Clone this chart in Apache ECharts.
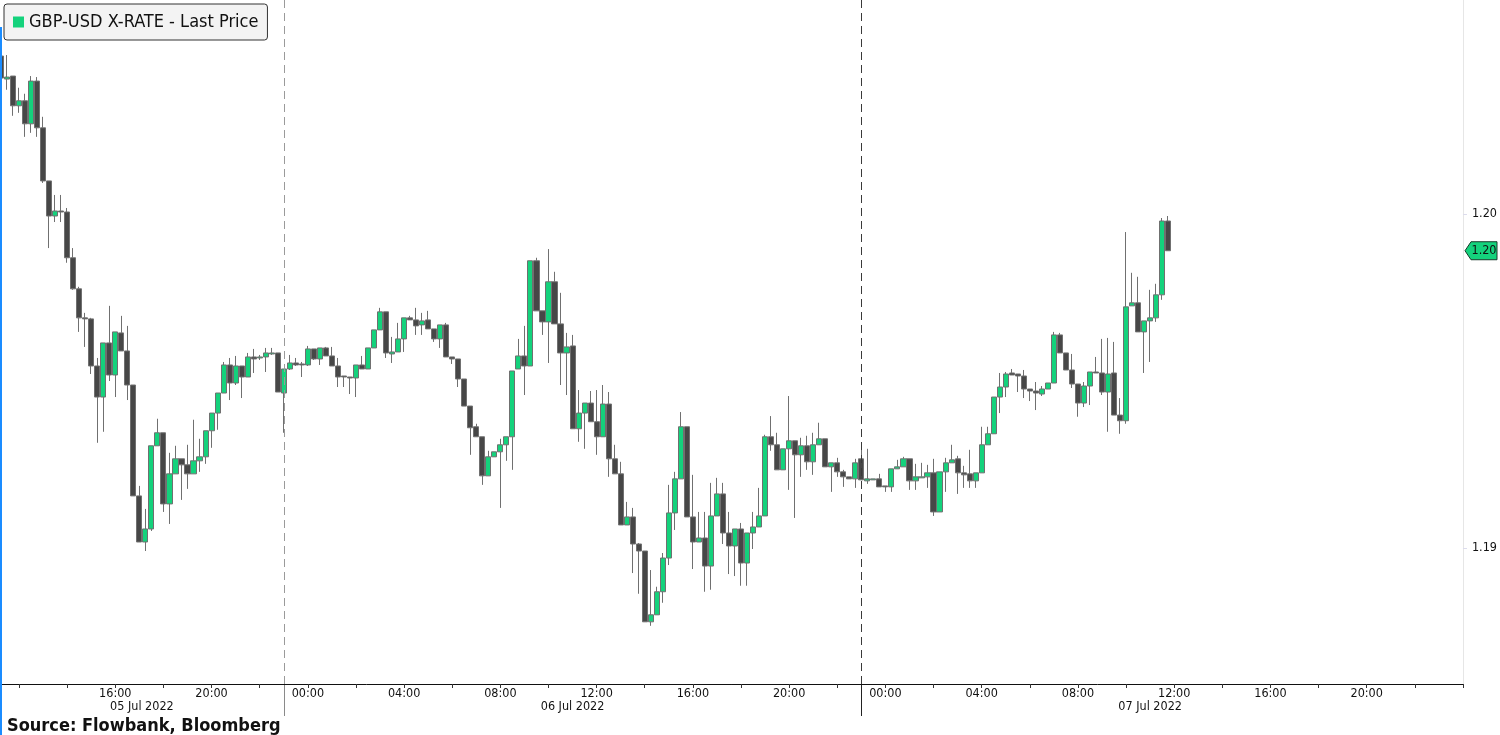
<!DOCTYPE html>
<html>
<head>
<meta charset="utf-8">
<script src="https://cdn.jsdelivr.net/npm/echarts@6/dist/echarts.min.js"></script>
<style>
html,body{margin:0;padding:0;background:#fff;}
#chart{width:1500px;height:735px;}
</style>
</head>
<body>
<div id="chart"></div>
<script>
// 15-minute GBP-USD candles, first bar 05 Jul 2022 11:15
const seriesName = 'GBP-USD X-RATE - Last Price';
const firstBarTime = Date.UTC(2022, 6, 5, 11, 15);
const barMinutes = 15;
const axisBarCount = 244; // axis runs to 08 Jul 2022 00:00

const open = [
1.20473,1.20404,1.20413,1.20324,1.20339,1.20270,1.20398,1.20258,1.20099,1.19994,
1.20009,1.20006,1.19869,1.19776,1.19689,1.19686,1.19545,1.19452,1.19614,1.19518,
1.19644,1.19590,1.19488,1.19156,1.19018,1.19057,1.19306,1.19345,1.19132,1.19222,
1.19267,1.19249,1.19222,1.19261,1.19273,1.19351,1.19404,1.19464,1.19548,1.19494,
1.19545,1.19512,1.19572,1.19569,1.19572,1.19581,1.19584,1.19464,1.19536,1.19554,
1.19551,1.19548,1.19596,1.19566,1.19599,1.19575,1.19545,1.19515,1.19512,1.19509,
1.19548,1.19536,1.19599,1.19653,1.19707,1.19581,1.19587,1.19626,1.19689,1.19683,
1.19668,1.19683,1.19656,1.19626,1.19668,1.19572,1.19566,1.19506,1.19425,1.19363,
1.19333,1.19216,1.19273,1.19288,1.19309,1.19333,1.19536,1.19575,1.19545,1.19860,
1.19710,1.19677,1.19797,1.19671,1.19584,1.19605,1.19357,1.19404,1.19434,1.19378,
1.19333,1.19431,1.19267,1.19222,1.19069,1.19093,1.19012,1.18991,1.18779,1.18800,
1.18869,1.18970,1.19105,1.19207,1.19363,1.19093,1.19018,1.19030,1.18946,1.19096,
1.19162,1.19045,1.19006,1.19057,1.18955,1.19045,1.19063,1.19096,1.19333,1.19309,
1.19234,1.19297,1.19321,1.19279,1.19306,1.19258,1.19309,1.19327,1.19243,1.19255,
1.19228,1.19213,1.19207,1.19267,1.19201,1.19204,1.19207,1.19186,1.19183,1.19237,
1.19243,1.19267,1.19201,1.19210,1.19213,1.19225,1.19108,1.19228,1.19255,1.19267,
1.19225,1.19222,1.19201,1.19225,1.19309,1.19342,1.19452,1.19482,1.19524,1.19521,
1.19515,1.19476,1.19470,1.19461,1.19476,1.19494,1.19638,1.19584,1.19533,1.19491,
1.19434,1.19485,1.19527,1.19524,1.19467,1.19524,1.19398,1.19381,1.19725,1.19734,
1.19647,1.19680,1.19689,1.19758,1.19979
];
const close = [
1.20407,1.20410,1.20324,1.20339,1.20270,1.20398,1.20258,1.20099,1.19994,1.20009,
1.20006,1.19869,1.19776,1.19689,1.19686,1.19545,1.19452,1.19614,1.19518,1.19647,
1.19590,1.19488,1.19156,1.19018,1.19057,1.19306,1.19345,1.19132,1.19222,1.19267,
1.19249,1.19222,1.19261,1.19273,1.19351,1.19404,1.19464,1.19548,1.19494,1.19545,
1.19512,1.19572,1.19566,1.19572,1.19584,1.19584,1.19467,1.19536,1.19554,1.19548,
1.19548,1.19596,1.19566,1.19599,1.19575,1.19545,1.19512,1.19512,1.19509,1.19548,
1.19536,1.19599,1.19653,1.19707,1.19584,1.19587,1.19626,1.19689,1.19683,1.19665,
1.19680,1.19656,1.19626,1.19668,1.19572,1.19566,1.19506,1.19425,1.19360,1.19333,
1.19216,1.19273,1.19288,1.19309,1.19333,1.19530,1.19575,1.19545,1.19860,1.19710,
1.19677,1.19797,1.19671,1.19584,1.19602,1.19357,1.19404,1.19434,1.19378,1.19333,
1.19431,1.19267,1.19222,1.19069,1.19093,1.19012,1.18991,1.18779,1.18800,1.18869,
1.18970,1.19105,1.19207,1.19363,1.19093,1.19018,1.19030,1.18946,1.19096,1.19162,
1.19045,1.19006,1.19057,1.18955,1.19045,1.19063,1.19096,1.19333,1.19309,1.19234,
1.19297,1.19321,1.19279,1.19306,1.19258,1.19309,1.19327,1.19243,1.19255,1.19228,
1.19213,1.19207,1.19255,1.19204,1.19207,1.19207,1.19183,1.19183,1.19237,1.19243,
1.19267,1.19201,1.19213,1.19213,1.19225,1.19108,1.19228,1.19255,1.19264,1.19225,
1.19219,1.19201,1.19225,1.19309,1.19342,1.19452,1.19482,1.19521,1.19518,1.19515,
1.19476,1.19470,1.19464,1.19476,1.19494,1.19638,1.19584,1.19533,1.19491,1.19434,
1.19485,1.19527,1.19524,1.19467,1.19521,1.19398,1.19381,1.19722,1.19734,1.19647,
1.19680,1.19689,1.19758,1.19979,1.19890
];
const low = [
1.20401,1.20372,1.20294,1.20303,1.20231,1.20243,1.20231,1.20093,1.19898,1.19976,
1.19976,1.19854,1.19773,1.19647,1.19602,1.19521,1.19315,1.19348,1.19500,1.19452,
1.19590,1.19443,1.19156,1.19018,1.18991,1.19051,1.19306,1.19108,1.19072,1.19222,
1.19144,1.19177,1.19222,1.19228,1.19252,1.19300,1.19354,1.19464,1.19443,1.19488,
1.19449,1.19512,1.19524,1.19563,1.19527,1.19578,1.19467,1.19345,1.19533,1.19545,
1.19512,1.19545,1.19563,1.19548,1.19575,1.19545,1.19482,1.19482,1.19461,1.19452,
1.19536,1.19536,1.19599,1.19653,1.19569,1.19554,1.19587,1.19587,1.19683,1.19638,
1.19638,1.19656,1.19617,1.19599,1.19572,1.19551,1.19482,1.19425,1.19279,1.19333,
1.19189,1.19216,1.19273,1.19120,1.19261,1.19234,1.19536,1.19458,1.19545,1.19710,
1.19638,1.19554,1.19671,1.19488,1.19458,1.19357,1.19318,1.19297,1.19378,1.19279,
1.19333,1.19213,1.19222,1.19069,1.19069,1.18925,1.18863,1.18779,1.18767,1.18800,
1.18836,1.18949,1.19054,1.19207,1.19093,1.18937,1.19018,1.18869,1.18875,1.19096,
1.19012,1.18922,1.18916,1.18887,1.18887,1.18997,1.19063,1.19096,1.19291,1.19234,
1.19234,1.19174,1.19090,1.19213,1.19234,1.19219,1.19309,1.19243,1.19168,1.19213,
1.19183,1.19207,1.19180,1.19204,1.19192,1.19204,1.19183,1.19168,1.19168,1.19237,
1.19243,1.19174,1.19174,1.19210,1.19180,1.19096,1.19108,1.19168,1.19255,1.19162,
1.19180,1.19180,1.19180,1.19225,1.19309,1.19342,1.19404,1.19452,1.19518,1.19467,
1.19449,1.19440,1.19413,1.19455,1.19476,1.19494,1.19584,1.19533,1.19479,1.19393,
1.19422,1.19428,1.19524,1.19458,1.19348,1.19398,1.19342,1.19372,1.19725,1.19647,
1.19524,1.19557,1.19677,1.19743,1.19890
];
const high = [
1.20485,1.20476,1.20413,1.20378,1.20360,1.20413,1.20410,1.20291,1.20099,1.20057,
1.20057,1.20018,1.19898,1.19782,1.19704,1.19689,1.19569,1.19614,1.19725,1.19647,
1.19695,1.19665,1.19488,1.19186,1.19117,1.19306,1.19387,1.19345,1.19285,1.19306,
1.19267,1.19309,1.19384,1.19327,1.19351,1.19404,1.19464,1.19557,1.19569,1.19575,
1.19545,1.19584,1.19596,1.19578,1.19599,1.19599,1.19584,1.19536,1.19578,1.19569,
1.19557,1.19605,1.19596,1.19599,1.19602,1.19602,1.19569,1.19515,1.19512,1.19548,
1.19575,1.19599,1.19653,1.19719,1.19707,1.19632,1.19674,1.19689,1.19695,1.19719,
1.19704,1.19710,1.19656,1.19668,1.19674,1.19572,1.19566,1.19506,1.19425,1.19372,
1.19333,1.19291,1.19288,1.19327,1.19333,1.19530,1.19626,1.19665,1.19860,1.19869,
1.19710,1.19895,1.19827,1.19764,1.19644,1.19638,1.19473,1.19434,1.19470,1.19473,
1.19488,1.19467,1.19309,1.19258,1.19138,1.19120,1.19015,1.18991,1.18934,1.18884,
1.18985,1.19189,1.19228,1.19407,1.19363,1.19219,1.19108,1.19108,1.19195,1.19210,
1.19195,1.19108,1.19057,1.19075,1.19045,1.19108,1.19180,1.19339,1.19395,1.19345,
1.19297,1.19455,1.19321,1.19330,1.19336,1.19345,1.19375,1.19327,1.19255,1.19270,
1.19234,1.19213,1.19267,1.19300,1.19297,1.19207,1.19222,1.19186,1.19237,1.19264,
1.19273,1.19267,1.19252,1.19255,1.19249,1.19267,1.19228,1.19270,1.19309,1.19276,
1.19246,1.19294,1.19225,1.19363,1.19363,1.19452,1.19524,1.19527,1.19536,1.19521,
1.19533,1.19476,1.19497,1.19485,1.19494,1.19647,1.19644,1.19584,1.19581,1.19491,
1.19497,1.19527,1.19572,1.19626,1.19629,1.19617,1.19449,1.19946,1.19824,1.19812,
1.19680,1.19773,1.19791,1.19988,1.19994
];

const yTickValues = [1.19, 1.20];
const daySeparators = ['2022-07-05 23:00', '2022-07-06 23:00'];
const dayBounds = ['2022-07-05 11:15', '2022-07-05 23:00', '2022-07-06 23:00', '2022-07-07 23:00'];
const dayLabels = ['05 Jul 2022', '06 Jul 2022', '07 Jul 2022'];
const sourceText = 'Source: Flowbank, Bloomberg';

function pad(n) { return (n < 10 ? '0' : '') + n; }
const categories = [];
for (let i = 0; i < axisBarCount; i++) {
  const d = new Date(firstBarTime + i * barMinutes * 60000);
  categories.push(d.getUTCFullYear() + '-' + pad(d.getUTCMonth() + 1) + '-' + pad(d.getUTCDate()) + ' ' +
    pad(d.getUTCHours()) + ':' + pad(d.getUTCMinutes()));
}
const candles = open.map((o, i) => [o, close[i], low[i], high[i]]);

const FONT = "'DejaVu Sans Condensed', 'Liberation Sans Narrow', 'DejaVu Sans', sans-serif";
const UP = '#14d27c', DOWN = '#474747', EDGE = '#707070';

const chart = echarts.init(document.getElementById('chart'), null, { renderer: 'canvas' });
const option = {
  animation: false,
  backgroundColor: '#ffffff',
  grid: { left: 1, right: 36, top: 0, bottom: 51, containLabel: false },
  legend: {
    left: 4, top: 4,
    padding: [9, 9, 9, 9],
    backgroundColor: '#f3f3f3',
    borderColor: '#333333', borderWidth: 1, borderRadius: 3,
    selectedMode: false,
    itemWidth: 11, itemHeight: 11,
    textStyle: { fontFamily: FONT, fontSize: 18, color: '#111111' },
    data: [{ name: seriesName, icon: 'rect', itemStyle: { color: UP, borderWidth: 0 } }]
  },
  xAxis: {
    type: 'category',
    data: categories,
    boundaryGap: false,
    axisLine: { lineStyle: { color: '#111111', width: 1 } },
    axisTick: {
      length: 4,
      lineStyle: { color: '#333333' },
      interval: function (idx, val) {
        const h = +val.slice(11, 13), m = val.slice(14, 16);
        return m === '00' && h % 2 === 0;
      }
    },
    axisLabel: {
      margin: 3,
      fontFamily: FONT, fontSize: 12.5, color: '#111111',
      interval: function (idx, val) {
        const h = +val.slice(11, 13), m = val.slice(14, 16);
        return m === '00' && h % 4 === 0 && idx > 6 && idx < categories.length - 3;
      },
      formatter: function (val) { return val.slice(11, 16); }
    },
    splitLine: { show: false }
  },
  yAxis: {
    type: 'value',
    position: 'right',
    scale: true,
    min: 1.1859281,
    max: 1.2064072,
    axisLine: { show: true, lineStyle: { color: '#e6e6e6' } },
    axisTick: { show: true, length: 4, customValues: yTickValues, lineStyle: { color: '#dcdcec' } },
    axisLabel: {
      customValues: yTickValues,
      margin: 9,
      fontFamily: FONT, fontSize: 12.5, color: '#111111',
      formatter: function (v) { return v.toFixed(2); }
    },
    splitLine: { show: false }
  },
  series: [{
    name: seriesName,
    type: 'candlestick',
    data: candles,
    barWidth: 5.6,
    clip: true,
    itemStyle: {
      color: UP, color0: DOWN,
      borderColor: EDGE, borderColor0: EDGE,
      borderWidth: 1
    },
    markLine: {
      silent: true,
      symbol: 'none',
      label: { show: false },
      lineStyle: { type: [8, 5], width: 1 },
      data: [
        { xAxis: daySeparators[0], lineStyle: { color: '#9a9a9a', type: [8, 5], width: 1 } },
        { xAxis: daySeparators[1], lineStyle: { color: '#3a3a3a', type: [8, 5], width: 1 } }
      ]
    }
  }]
};
chart.setOption(option);

// decorations placed through the chart's own scales
const axisY = 684;
const px = v => chart.convertToPixel({ xAxisIndex: 0 }, v);
const lastClose = close[close.length - 1];
const tagY = chart.convertToPixel({ yAxisIndex: 0 }, lastClose);
const gridRight = 1464;
const graphics = [];
daySeparators.forEach((d, i) => {
  const x = Math.round(px(d)) + 0.5;
  graphics.push({ type: 'line', shape: { x1: x, y1: axisY, x2: x, y2: axisY + 32 },
    style: { stroke: i === 0 ? '#8a8a8a' : '#222222', lineWidth: 1 }, silent: true });
});
dayLabels.forEach((t, i) => {
  const a = i === 0 ? 0 : px(dayBounds[i]);
  const b = px(dayBounds[i + 1]);
  graphics.push({ type: 'text', x: (a + b) / 2, y: axisY + 23,
    style: { text: t, fill: '#111111', font: '12.5px ' + FONT, textAlign: 'center', textVerticalAlign: 'middle' }, silent: true });
});
graphics.push({ type: 'polygon', shape: { points: [
    [gridRight + 1, tagY], [gridRight + 7, tagY - 9], [1497, tagY - 9], [1497, tagY + 9], [gridRight + 7, tagY + 9]] },
  style: { fill: UP, stroke: '#1a3a2a', lineWidth: 1 }, silent: true });
graphics.push({ type: 'text', x: 1484, y: tagY,
  style: { text: lastClose.toFixed(2), fill: '#111111', font: '12.5px ' + FONT, textAlign: 'center', textVerticalAlign: 'middle' }, silent: true });
graphics.push({ type: 'text', x: 7, y: 726,
  style: { text: sourceText, fill: '#111111', font: 'bold 18px ' + FONT, textAlign: 'left', textVerticalAlign: 'middle' }, silent: true });
graphics.push({ type: 'rect', shape: { x: 0, y: 27, width: 2, height: 708 }, style: { fill: '#1a8cff' }, silent: true, z: 100 });
chart.setOption({ graphic: graphics });
</script>
</body>
</html>
